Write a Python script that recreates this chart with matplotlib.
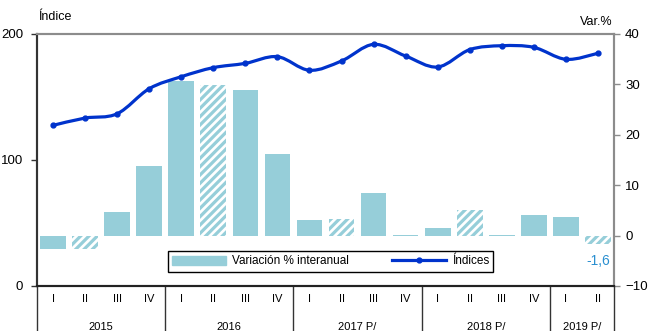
import matplotlib.pyplot as plt
import numpy as np
from matplotlib.path import Path
from matplotlib.patches import PathPatch, Patch
from matplotlib.lines import Line2D
from matplotlib.transforms import blended_transform_factory

plt.rcParams['font.family'] = ['Liberation Sans', 'DejaVu Sans']
plt.rcParams['hatch.linewidth'] = 2.3

# Data
quarters = ['I', 'II', 'III', 'IV'] * 4 + ['I', 'II']
years = ['2015', '2016', '2017 P/', '2018 P/', '2019 P/']
year_sizes = [4, 4, 4, 4, 2]
variacion = [-2.7, -2.6, 4.6, 13.8, 30.6, 29.9, 28.9, 16.2,
             3.0, 3.2, 8.5, 0.2, 1.6, 5.0, 0.2, 4.1, 3.6, -1.6]
indices = [127.5, 133.3, 136.7, 156.6, 166.1, 173.3, 176.7, 182.0,
           171.2, 178.6, 191.8, 182.5, 173.8, 187.6, 190.7, 189.4, 179.9, 184.7]
hatched = [False, True, False, False] * 4 + [False, True]

bar_color = '#96CED9'
line_color = '#0033CC'

fig = plt.figure(figsize=(6.48, 3.31), dpi=100)
ax2 = fig.add_axes([37 / 648, 1 - 286 / 331, 577 / 648, 252 / 331])
ax = ax2.twinx()
ax.yaxis.tick_left()
ax.yaxis.set_label_position('left')
ax2.yaxis.tick_right()
ax.set_zorder(ax2.get_zorder() + 1)
ax.patch.set_visible(False)

x = np.arange(len(variacion))

# bars (right axis)
for xi, v, h in zip(x, variacion, hatched):
    if h:
        ax2.bar(xi, v, 0.8, facecolor='white', edgecolor=bar_color, hatch='////', linewidth=0)
    else:
        ax2.bar(xi, v, 0.8, color=bar_color, linewidth=0)
ax2.set_ylim(-10, 40)
ax2.set_yticks([-10, 0, 10, 20, 30, 40])
ax2.text(x[-1], variacion[-1] - 2.0, '-1,6', color='#2A8FD0', fontsize=10,
         ha='center', va='top')

# smooth line (left axis)
pts = np.column_stack([x, indices]).astype(float)
ext = np.vstack([pts[0], pts, pts[-1]])
verts = [pts[0]]
codes = [Path.MOVETO]
for i in range(1, len(ext) - 2):
    p0, p1, p2, p3 = ext[i - 1], ext[i], ext[i + 1], ext[i + 2]
    verts += [p1 + (p2 - p0) / 6, p2 - (p3 - p1) / 6, p2]
    codes += [Path.CURVE4] * 3
ax.add_patch(PathPatch(Path(verts, codes), facecolor='none', edgecolor=line_color,
                       linewidth=2.3, capstyle='round', joinstyle='round'))
ax.plot(x, indices, 'o', color=line_color, markersize=3.5)
ax.set_ylim(0, 200)
ax.set_yticks([0, 100, 200])
ax.set_xlim(-0.5, len(x) - 0.5)
ax2.set_xlim(-0.5, len(x) - 0.5)

# spines and ticks
for a in (ax, ax2):
    a.spines['top'].set_color('#8C8C8C')
    a.spines['top'].set_linewidth(1.5)
    a.spines['right'].set_color('#8C8C8C')
    a.spines['right'].set_linewidth(1.5)
    a.spines['left'].set_color('#333333')
    a.spines['left'].set_linewidth(1.5)
    a.spines['bottom'].set_color('#222222')
    a.spines['bottom'].set_linewidth(1.5)
    a.set_xticks([])
ax.tick_params(axis='y', direction='out', length=4, width=1, colors='#333333',
               labelsize=9.5, labelcolor='black', pad=6)
ax2.tick_params(axis='y', direction='out', length=4, width=1, colors='#8C8C8C',
                labelsize=9.5, labelcolor='black', pad=4)

ax.text(0.002, 1.045, 'Índice', transform=ax.transAxes, fontsize=9, ha='left', va='bottom')
ax.text(0.997, 1.025, 'Var.%', transform=ax.transAxes, fontsize=9, ha='right', va='bottom')

# category axis
tr = blended_transform_factory(ax.transData, ax.transAxes)
for xi, q in zip(x, quarters):
    ax.text(xi, -0.05, q, transform=tr, ha='center', va='center', fontsize=8)
start = 0
bounds = [-0.5]
for yname, n in zip(years, year_sizes):
    ax.text(start + (n - 1) / 2, -0.162, yname, transform=tr, ha='center',
            va='center', fontsize=8)
    start += n
    bounds.append(start - 0.5)
for b in bounds:
    ax.plot([b, b], [0, -0.2], transform=tr, color='#333333', linewidth=1,
            clip_on=False)

handles = [Patch(color=bar_color, label='Variación % interanual'),
           Line2D([0], [0], color=line_color, linewidth=2.3, marker='o',
                  markersize=3.5, label='Índices')]
leg = ax.legend(handles=handles, loc='center', ncol=2,
                bbox_to_anchor=(330.5 / 648, 1 - 261.5 / 331),
                bbox_transform=fig.transFigure, fontsize=8.5, frameon=True,
                fancybox=False, framealpha=1, edgecolor='black',
                handlelength=4.6, handleheight=0.7, columnspacing=3.6,
                borderpad=0.35, handletextpad=0.5)
leg.get_frame().set_linewidth(1)

fig.savefig('out.png', dpi=100)
